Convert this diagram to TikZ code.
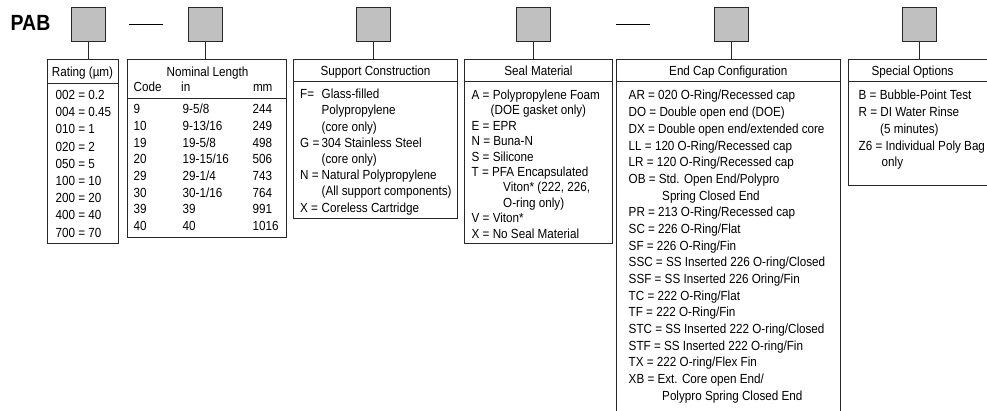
\documentclass[tikz,border=0pt]{standalone}
\usepackage{fontspec}
\setmainfont{Liberation Sans}[FakeStretch=0.885]
\definecolor{boxgray}{RGB}{192,192,192}
\definecolor{linec}{RGB}{40,40,40}
\tikzset{
  panel/.style={draw=linec, line width=0.8pt, inner sep=0pt, outer sep=0pt, anchor=north west},
  sq/.style={draw=linec, fill=boxgray, line width=0.8pt, minimum size=34pt, inner sep=0pt, outer sep=0pt, anchor=north west},
  txt/.style={anchor=base west, inner sep=0pt, font=\fontsize{13.2}{15}\selectfont},
  hdr/.style={anchor=base, inner sep=0pt, font=\fontsize{13.2}{15}\selectfont},
  stem/.style={draw=linec, line width=0.8pt},
  rule/.style={draw=linec, line width=0.8pt},
  dashline/.style={draw=black, line width=1.6pt}
}
\begin{document}
\begin{tikzpicture}[x=1pt,y=-1pt]
\useasboundingbox (0,0) rectangle (987,411);
\clip (0,0) rectangle (987,411);

% code label
\node[anchor=base west, inner sep=0pt, font=\fontsize{22}{22}\selectfont\bfseries] (pab) at (10.5,31) {PAB};

% gray code squares
\node[sq] (g1) at (71,7) {};
\node[sq] (g2) at (188,7) {};
\node[sq] (g3) at (356,7) {};
\node[sq] (g4) at (516,7) {};
\node[sq] (g5) at (714,7) {};
\node[sq] (g6) at (902,7) {};

% dashes
\coordinate (d1a) at (129,24.5); \coordinate (d1b) at (163,24.5);
\coordinate (d2a) at (616,24.5); \coordinate (d2b) at (650,24.5);
\draw[dashline] (d1a) -- (d1b);
\draw[dashline] (d2a) -- (d2b);

% panels
\node[panel, minimum width=71pt, minimum height=183.8pt] (rating) at (47,59.5) {};
\node[panel, minimum width=159.4pt, minimum height=178.2pt] (nominal) at (127.3,59.5) {};
\node[panel, minimum width=164.4pt, minimum height=158.8pt] (support) at (293.3,59.5) {};
\node[panel, minimum width=148.4pt, minimum height=183.8pt] (seal) at (464.3,59.5) {};
\node[panel, minimum width=223.3pt, minimum height=380pt] (endcap) at (616.7,59.5) {};
\node[panel, minimum width=150pt, minimum height=125.5pt] (special) at (848.3,59.5) {};

% header dividers
\path (rating.north west) ++(0,23.5) coordinate (rh);
\draw[rule] (rh) -- (rh -| rating.east);
\path (nominal.north west) ++(0,38.5) coordinate (nh);
\draw[rule] (nh) -- (nh -| nominal.east);
\path (support.north west) ++(0,21.5) coordinate (sh);
\draw[rule] (sh) -- (sh -| support.east);
\path (seal.north west) ++(0,21.5) coordinate (mh);
\draw[rule] (mh) -- (mh -| seal.east);
\path (endcap.north west) ++(0,21.5) coordinate (eh);
\draw[rule] (eh) -- (eh -| endcap.east);
\path (special.north west) ++(0,21.5) coordinate (oh);
\draw[rule] (oh) -- (oh -| special.east);

% stems
\draw[stem] (g1.south) -- (g1.south |- rating.north);
\draw[stem] (g2.south) -- (g2.south |- nominal.north);
\draw[stem] (g3.south) -- (g3.south |- support.north);
\draw[stem] (g4.south) -- (g4.south |- seal.north);
\draw[stem] (g5.south) -- (g5.south |- endcap.north);
\draw[stem] (g6.south) -- (g6.south |- special.north);

% headers
\node[hdr] (hrating) at (82.5,76.5) {Rating (µm)};
\node[hdr] (hnominal) at (207.5,77) {Nominal Length};
\node[txt] (hcode) at (133.5,91.5) {Code};
\node[txt] (hin) at (181,91.5) {in};
\node[txt] (hmm) at (252.8,91.5) {mm};
\node[hdr] (hsupport) at (375.5,75.5) {Support Construction};
\node[hdr] (hseal) at (538.5,75.5) {Seal Material};
\node[hdr] (hendcap) at (728.3,75.5) {End Cap Configuration};
\node[hdr] (hspecial) at (912.5,75.5) {Special Options};

% rating rows
\foreach \t [count=\i from 0] in {002 = 0.2, 004 = 0.45, 010 = 1, 020 = 2, 050 = 5, 100 = 10, 200 = 20, 400 = 40, 700 = 70}
  \node[txt] (r\i) at (55.5,99.5+17.2*\i) {\t};

% nominal rows
\foreach \t [count=\i from 0] in {9,10,19,20,29,30,39,40}
  \node[txt] (nc\i) at (133.5,113.7+16.67*\i) {\t};
\foreach \t [count=\i from 0] in {9-5/8, 9-13/16, 19-5/8, 19-15/16, 29-1/4, 30-1/16, 39, 40}
  \node[txt] (ni\i) at (182.5,113.7+16.67*\i) {\t};
\foreach \t [count=\i from 0] in {244,249,498,506,743,764,991,1016}
  \node[txt] (nm\i) at (252.5,113.7+16.67*\i) {\t};

% support rows
\foreach \l/\v [count=\i from 0] in {F=/Glass-filled, /Polypropylene, /(core only), G =/304 Stainless Steel, /(core only), N =/Natural Polypropylene, /(All support components), X =/Coreless Cartridge}
  \node[txt] (s\i) at (300,98.8+16.2*\i) {\makebox[21.5pt][l]{\l}\v};

% seal rows
\foreach \xx/\t [count=\i from 0] in {471.5/A = Polypropylene Foam, 490.5/(DOE gasket only), 471.5/E = EPR, 471.5/N = Buna-N, 471.5/S = Silicone, 471.5/T = PFA Encapsulated, 503/{Viton* (222, 226,}, 503/O-ring only), 471.5/V = Viton*, 471.5/X = No Seal Material}
  \node[txt] (m\i) at (\xx,99.5+15.4*\i) {\t};

% end cap rows
\foreach \t [count=\i from 0] in {AR = 020 O-Ring/Recessed cap, DO = Double open end (DOE), DX = Double open end/extended core, LL = 120 O-Ring/Recessed cap, LR = 120 O-Ring/Recessed cap, OB = Std. Open End/Polypro, \hspace*{33.5pt}Spring Closed End, PR = 213 O-Ring/Recessed cap, SC = 226 O-Ring/Flat, SF = 226 O-Ring/Fin, SSC = SS Inserted 226 O-ring/Closed, SSF = SS Inserted 226 Oring/Fin, TC = 222 O-Ring/Flat, TF = 222 O-Ring/Fin, STC = SS Inserted 222 O-ring/Closed, STF = SS Inserted 222 O-ring/Fin, TX = 222 O-ring/Flex Fin, XB = Ext. Core open End/, \hspace*{33.5pt}Polypro Spring Closed End}
  \node[txt] (e\i) at (628.5,100+16.67*\i) {\t};

% special rows
\foreach \t [count=\i from 0] in {B = Bubble-Point Test, R = DI Water Rinse, \hspace*{21.5pt}(5 minutes), Z6 = Individual Poly Bag, \hspace*{23pt}only}
  \node[txt] (o\i) at (858.5,100+16.67*\i) {\t};
\end{tikzpicture}
\end{document}
